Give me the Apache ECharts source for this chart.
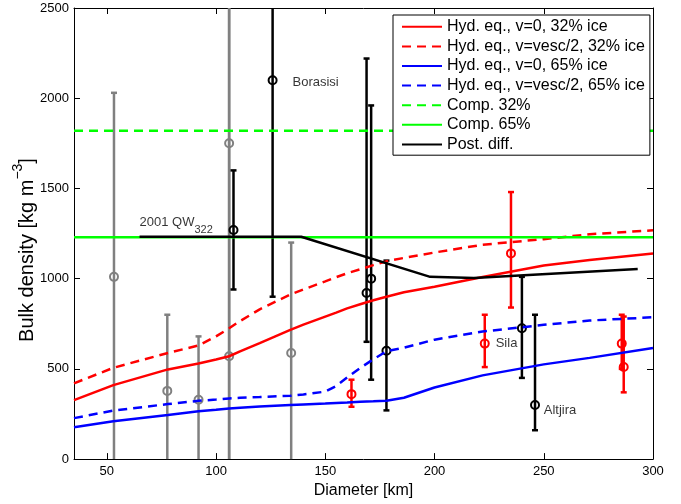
<!DOCTYPE html>
<html><head><meta charset="utf-8">
<script src="https://cdn.jsdelivr.net/npm/echarts@6/dist/echarts.min.js"></script>
<style>html,body{margin:0;padding:0;background:#fff}#c{width:681px;height:504px}</style>
</head><body><div id="c"></div>
<script>
// ---- data ----
const xTicks = [50, 100, 150, 200, 250, 300];
const yTicks = [0, 500, 1000, 1500, 2000, 2500];

const diam = [35, 53, 78, 92, 100, 106, 111, 120, 134, 140, 150, 155, 160, 166, 172, 178, 186, 200, 222, 250, 271, 300];
const hydV0Ice32   = [327, 410, 497, 530, 552, 570, 597, 643, 716, 745, 790, 812, 835, 858, 880, 900, 925, 955, 1009, 1073, 1104, 1140];
const hydVescIce32 = [420, 506, 588, 630, 680, 725, 765, 830, 912, 940, 985, 1008, 1030, 1052, 1075, 1096, 1115, 1145, 1188, 1219, 1246, 1268];
const hydV0Ice65   = [177, 210, 245, 265, 273, 281, 285, 291, 300, 303, 308, 311, 314, 318, 320, 323, 340, 397, 464, 525, 561, 616];
const hydVescIce65 = [227, 269, 305, 323, 330, 336, 340, 344, 351, 358, 374, 405, 452, 505, 553, 598, 617, 662, 707, 744, 768, 786];

const compDiam = [35, 300];
const comp32 = [1820, 1820];
const comp65 = [1230, 1230];

const postDiam = [65, 139, 198, 218, 293];
const postDiff = [1232, 1232, 1010, 1003, 1054];

// error-bar points: diameter, density, lower, upper
const grayD   = [53.3, 77.7, 92, 106, 106, 134.4];
const grayRho = [1010, 378, 329, 1750, 570, 588];
const grayLo  = [-150, -150, -150, -150, -150, -150];
const grayHi  = [2030, 800, 680, 2700, 2700, 1200];

const blackD   = [108, 125.9, 168.9, 171, 178, 240, 246];
const blackRho = [1270, 2100, 921, 1000, 600, 725, 300];
const blackLo  = [940, 900, 650, 440, 270, 450, 160];
const blackHi  = [1600, 2700, 2220, 1960, 1100, 1010, 800];

const redD   = [162, 223, 235, 285.7, 286.6];
const redRho = [360, 640, 1140, 640, 510];
const redLo  = [290, 510, 840, 500, 370];
const redHi  = [440, 800, 1480, 800, 790];

const annText = ['Borasisi', 'Sila', 'Altjira', '{n|2001 QW}{s|322}'];
const annD    = [135, 228, 250, 65];
const annRho  = [2090, 640, 270, 1312];

const names = ['Hyd. eq., v=0, 32% ice', 'Hyd. eq., v=vesc/2, 32% ice', 'Hyd. eq., v=0, 65% ice',
               'Hyd. eq., v=vesc/2, 65% ice', 'Comp. 32%', 'Comp. 65%', 'Post. diff.'];

// ---- chart ----
const FONT = 'Liberation Sans, Arial, Helvetica, sans-serif';
const pairs = (xs, ys) => xs.map((x, i) => [x, ys[i]]);
const triples = (xs, lo, hi) => xs.map((x, i) => [x, lo[i], hi[i]]);

function lineSeries(name, xs, ys, color, dashed) {
  return {
    name, type: 'line', data: pairs(xs, ys), symbol: 'none', showSymbol: false,
    smooth: false, clip: true,
    lineStyle: { color, width: 2.5, type: dashed ? [9, 6] : 'solid' },
    itemStyle: { color }
  };
}

function makeBar(color) {
  return function (params, api) {
    const cs = params.coordSys;
    const x = api.value(0), lo = api.value(1), hi = api.value(2);
    const pL = api.coord([x, lo]), pH = api.coord([x, hi]);
    const top = cs.y, bot = cs.y + cs.height;
    const y1 = Math.min(Math.max(pH[1], top), bot);
    const y2 = Math.min(Math.max(pL[1], top), bot);
    const st = { stroke: color, lineWidth: 2.5 };
    const c = 3;
    const ch = [{ type: 'line', shape: { x1: pL[0], y1: y1, x2: pL[0], y2: y2 }, style: st }];
    if (pH[1] >= top) ch.push({ type: 'line', shape: { x1: pH[0] - c, y1: pH[1], x2: pH[0] + c, y2: pH[1] }, style: st });
    if (pL[1] <= bot) ch.push({ type: 'line', shape: { x1: pL[0] - c, y1: pL[1], x2: pL[0] + c, y2: pL[1] }, style: st });
    return { type: 'group', children: ch };
  };
}

function barSeries(xs, lo, hi, color) {
  return { type: 'custom', data: triples(xs, lo, hi), renderItem: makeBar(color),
           encode: { x: 0, y: [1, 2] }, silent: true };
}
function dotSeries(xs, ys, color) {
  return { type: 'scatter', data: pairs(xs, ys), symbol: 'circle', symbolSize: 8,
           itemStyle: { color: 'rgba(0,0,0,0)', borderColor: color, borderWidth: 2, opacity: 1 }, silent: true };
}

const axisCommonX = {
  type: 'value', min: 35, max: 300,
  axisLine: { show: true, onZero: false, lineStyle: { color: '#000', width: 1 } },
  axisTick: { show: true, inside: true, length: 6, customValues: xTicks, lineStyle: { color: '#000' } },
  splitLine: { show: false }
};
const axisCommonY = {
  type: 'value', min: 0, max: 2500, interval: 500,
  axisLine: { show: true, onZero: false, lineStyle: { color: '#000', width: 1 } },
  axisTick: { show: true, inside: true, length: 6, customValues: yTicks, lineStyle: { color: '#000' } },
  splitLine: { show: false }
};

const option = {
  animation: false,
  backgroundColor: '#fff',
  textStyle: { fontFamily: FONT },
  grid: { left: 74, right: 28, top: 8, bottom: 40, containLabel: false },
  xAxis: [
    Object.assign({}, axisCommonX, {
      position: 'bottom',
      axisLabel: { show: true, customValues: xTicks, fontSize: 13, color: '#000', margin: 6, fontFamily: FONT,
                   formatter: v => String(v) },
      name: 'Diameter [km]', nameLocation: 'middle', nameGap: 20,
      nameTextStyle: { fontSize: 16, color: '#000', fontFamily: FONT }
    }),
    Object.assign({}, axisCommonX, { position: 'top', axisLabel: { show: false } })
  ],
  yAxis: [
    Object.assign({}, axisCommonY, {
      position: 'left',
      axisLabel: { show: true, customValues: yTicks, fontSize: 13, color: '#000', margin: 5, fontFamily: FONT,
                   formatter: v => String(v) }
    }),
    Object.assign({}, axisCommonY, { position: 'right', axisLabel: { show: false } })
  ],
  legend: {
    data: names, orient: 'vertical', left: 393, top: 15,
    backgroundColor: '#fff', borderColor: '#000', borderWidth: 1, borderRadius: 0,
    padding: [2, 5, 1, 8], itemWidth: 40, itemHeight: 14, itemGap: 0,
    selectedMode: false,
    itemStyle: { color: 'rgba(0,0,0,0)', borderWidth: 0, opacity: 0 },
    textStyle: { fontSize: 16, lineHeight: 19.6, color: '#000', fontFamily: FONT }
  },
  graphic: [{
    type: 'text', x: 27, y: 250, rotation: Math.PI / 2, z: 10,
    style: {
      text: '{a|Bulk density [kg m}{s|\u22123}{a|]}',
      align: 'center', verticalAlign: 'middle', fill: '#000',
      rich: {
        a: { fontSize: 20, fontFamily: FONT, fill: '#000' },
        s: { fontSize: 14, fontFamily: FONT, fill: '#000', padding: [0, 0, 18, 0] }
      }
    }
  }],
  series: [
    lineSeries(names[0], diam, hydV0Ice32, '#ff0000', false),
    lineSeries(names[1], diam, hydVescIce32, '#ff0000', true),
    lineSeries(names[2], diam, hydV0Ice65, '#0000ff', false),
    lineSeries(names[3], diam, hydVescIce65, '#0000ff', true),
    lineSeries(names[4], compDiam, comp32, '#00ff00', true),
    lineSeries(names[5], compDiam, comp65, '#00ff00', false),
    lineSeries(names[6], postDiam, postDiff, '#000000', false),
    barSeries(grayD, grayLo, grayHi, '#808080'),
    barSeries(blackD, blackLo, blackHi, '#000000'),
    barSeries(redD, redLo, redHi, '#ff0000'),
    dotSeries(grayD, grayRho, '#808080'),
    dotSeries(blackD, blackRho, '#000000'),
    dotSeries(redD, redRho, '#ff0000'),
    {
      type: 'scatter', symbolSize: 0, silent: true,
      data: annD.map((d, i) => ({ value: [d, annRho[i]], name: annText[i] })),
      label: {
        show: true, position: 'right', distance: 0, color: '#000', fontSize: 13, fontFamily: FONT,
        formatter: p => p.name,
        rich: {
          n: { fontSize: 13, fontFamily: FONT, color: '#000' },
          s: { fontSize: 11, fontFamily: FONT, color: '#000', padding: [15, 0, 0, 0] }
        }
      }
    }
  ]
};

const chart = echarts.init(document.getElementById('c'), null, { renderer: 'canvas' });
chart.setOption(option);
</script>
</body></html>
